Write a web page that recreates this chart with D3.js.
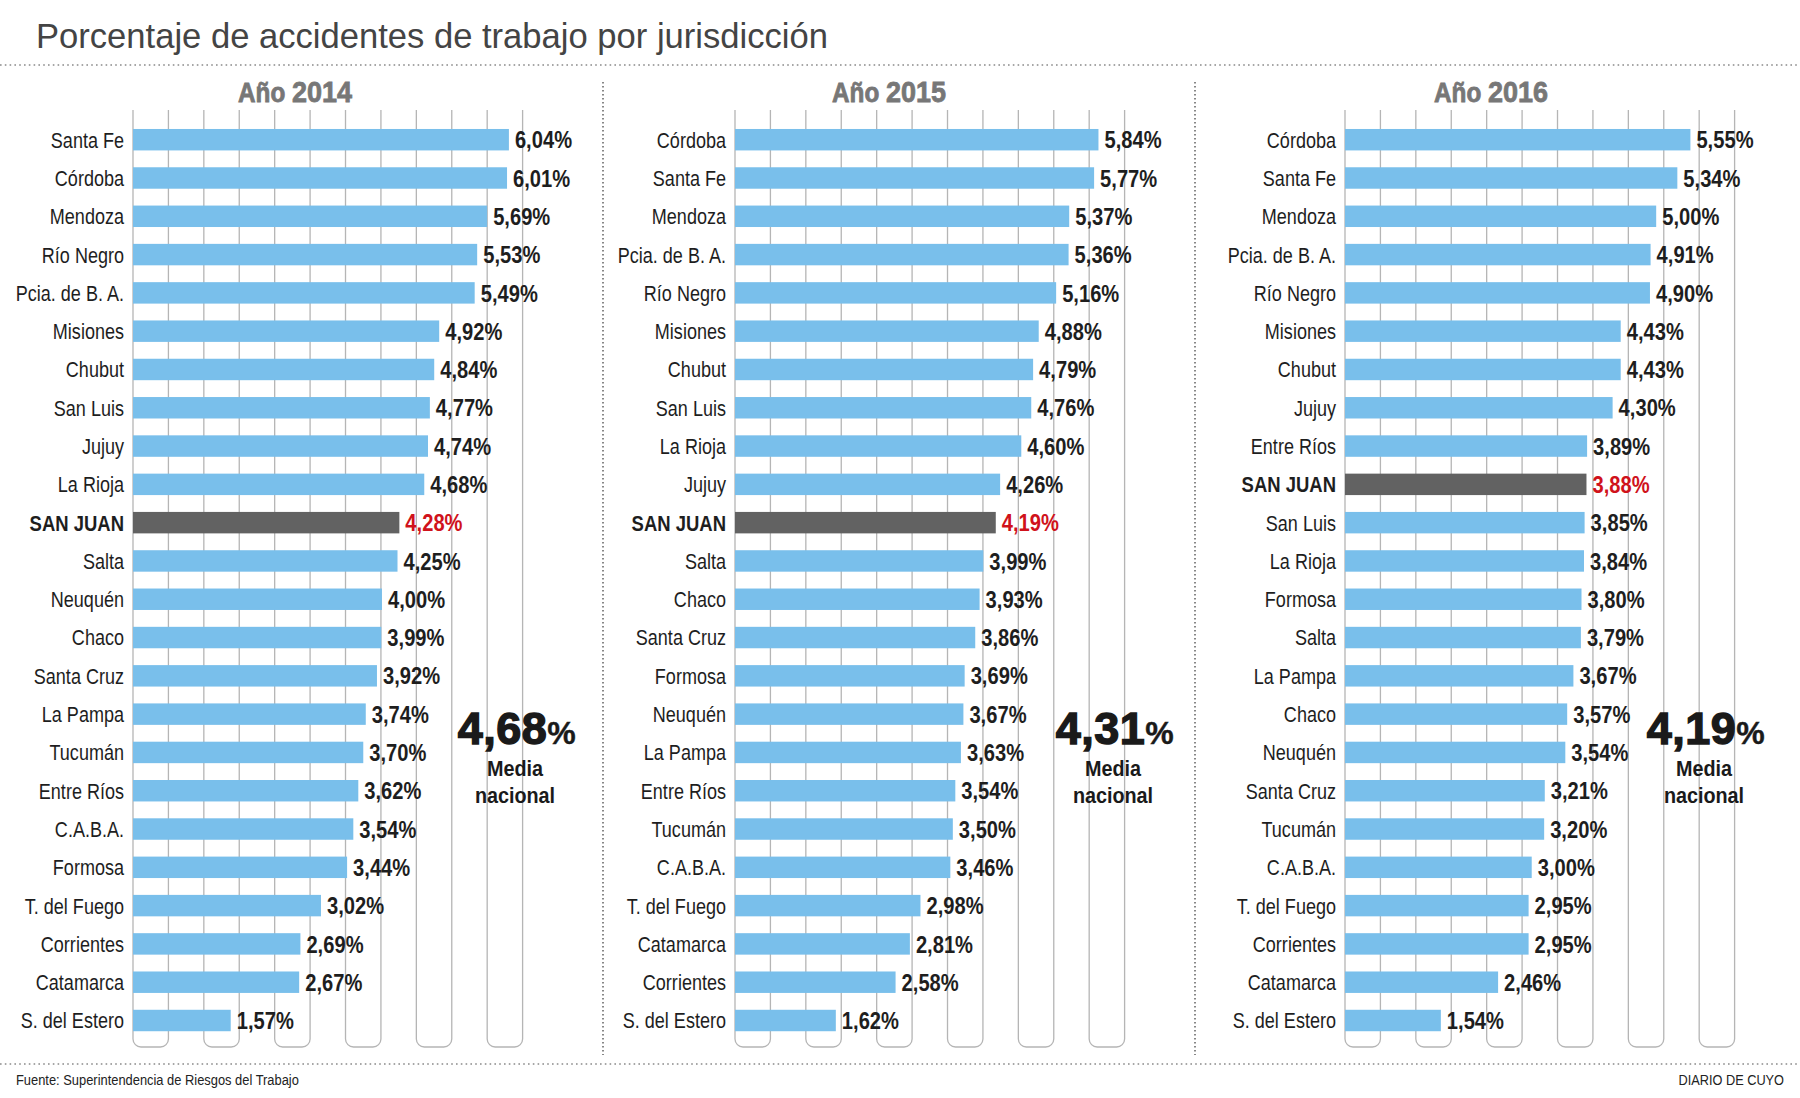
<!DOCTYPE html>
<html>
<head>
<meta charset="utf-8">
<script src="https://cdn.jsdelivr.net/npm/d3@7"></script>
<style>
  body { margin: 0; background: #fff; }
  svg { display: block; }
</style>
</head>
<body>
<svg id="chart" width="1800" height="1098"></svg>
<script>
// ---------- DATA ----------
const years = ["2014", "2015", "2016"];

const categories2014 = ["Santa Fe","Córdoba","Mendoza","Río Negro","Pcia. de B. A.","Misiones","Chubut","San Luis","Jujuy","La Rioja","SAN JUAN","Salta","Neuquén","Chaco","Santa Cruz","La Pampa","Tucumán","Entre Ríos","C.A.B.A.","Formosa","T. del Fuego","Corrientes","Catamarca","S. del Estero"];
const values2014 = [6.04,6.01,5.69,5.53,5.49,4.92,4.84,4.77,4.74,4.68,4.28,4.25,4.00,3.99,3.92,3.74,3.70,3.62,3.54,3.44,3.02,2.69,2.67,1.57];

const categories2015 = ["Córdoba","Santa Fe","Mendoza","Pcia. de B. A.","Río Negro","Misiones","Chubut","San Luis","La Rioja","Jujuy","SAN JUAN","Salta","Chaco","Santa Cruz","Formosa","Neuquén","La Pampa","Entre Ríos","Tucumán","C.A.B.A.","T. del Fuego","Catamarca","Corrientes","S. del Estero"];
const values2015 = [5.84,5.77,5.37,5.36,5.16,4.88,4.79,4.76,4.60,4.26,4.19,3.99,3.93,3.86,3.69,3.67,3.63,3.54,3.50,3.46,2.98,2.81,2.58,1.62];

const categories2016 = ["Córdoba","Santa Fe","Mendoza","Pcia. de B. A.","Río Negro","Misiones","Chubut","Jujuy","Entre Ríos","SAN JUAN","San Luis","La Rioja","Formosa","Salta","La Pampa","Chaco","Neuquén","Santa Cruz","Tucumán","C.A.B.A.","T. del Fuego","Corrientes","Catamarca","S. del Estero"];
const values2016 = [5.55,5.34,5.00,4.91,4.90,4.43,4.43,4.30,3.89,3.88,3.85,3.84,3.80,3.79,3.67,3.57,3.54,3.21,3.20,3.00,2.95,2.95,2.46,1.54];

const nationalMeans = [4.68, 4.31, 4.19];
const highlight = "SAN JUAN";

const titleText = "Porcentaje de accidentes de trabajo por jurisdicción";
const sourceText = "Fuente: Superintendencia de Riesgos del Trabajo";
const brandText = "DIARIO DE CUYO";

// ---------- LAYOUT (positions only) ----------
const panelLayout = [
  { x0: 133,  headerX: 295,  meanX: 517 },
  { x0: 735,  headerX: 889,  meanX: 1115 },
  { x0: 1345, headerX: 1491, meanX: 1706 }
];
const separatorsX = [603, 1195];

const sans = "'Liberation Sans',Arial,Helvetica,sans-serif";
const BAR = "#79bfeb", HL = "#626262", RED = "#d0121b", INK = "#1e1e1e";

const datasets = [
  { cats: categories2014, vals: values2014 },
  { cats: categories2015, vals: values2015 },
  { cats: categories2016, vals: values2016 }
];

const fmt = v => v.toFixed(2).replace(".", ",");

const svg = d3.select("#chart").attr("font-family", sans);
svg.append("rect").attr("width", 1800).attr("height", 1098).attr("fill", "#fff");

// Title
svg.append("text").attr("x", 36).attr("y", 48)
  .attr("font-size", 34.6).attr("fill", "#444")
  .text(titleText);

// Dotted rules
[65, 1064].forEach(yy => {
  svg.append("line").attr("x1", 0).attr("x2", 1800).attr("y1", yy).attr("y2", yy)
    .attr("stroke", "#8a8a8a").attr("stroke-width", 1.6).attr("stroke-dasharray", "1.6,3.2");
});
separatorsX.forEach(xx => {
  svg.append("line").attr("x1", xx).attr("x2", xx).attr("y1", 82).attr("y2", 1055)
    .attr("stroke", "#555").attr("stroke-width", 1.4).attr("stroke-dasharray", "1.5,2.5");
});

// Footer
svg.append("text").attr("transform", "translate(16,1085) scale(0.86,1)")
  .attr("font-size", 15).attr("fill", "#222").text(sourceText);
svg.append("text").attr("transform", "translate(1784,1085) scale(0.85,1)").attr("text-anchor", "end")
  .attr("font-size", 15).attr("fill", "#222").text(brandText);

// scales shared
const x = d3.scaleLinear().domain([0, 6.26]).range([0, 389.6]);
const colBand = d3.scaleBand().domain(d3.range(11)).range([x(0), x(6.26)]);
const gridTop = 110, gridBottom = 1047, r = 8;

datasets.forEach((ds, pi) => {
  const L = panelLayout[pi];
  const g = svg.append("g").attr("transform", `translate(${L.x0},0)`);
  const y = d3.scaleBand().domain(ds.cats).range([120.55, 1039.65])
    .paddingInner(0.44).paddingOuter(0.22);

  // header
  const h = svg.append("text").attr("transform", `translate(${L.headerX},102) scale(0.9,1)`)
    .attr("text-anchor", "middle").attr("font-weight", "bold").attr("fill", "#777")
    .attr("stroke", "#777").attr("stroke-width", 0.8);
  h.append("tspan").attr("font-size", 27).text("Año ");
  h.append("tspan").attr("font-size", 30).text(years[pi]);

  // decorative tube columns
  const cols = d3.range(0, 11, 2);
  g.selectAll("path.col").data(cols).join("path").attr("class", "col")
    .attr("fill", "none").attr("stroke", "#b5b5b5").attr("stroke-width", 1.3)
    .attr("d", i => {
      const l = colBand(i), rr = colBand(i) + colBand.bandwidth();
      return `M${l},${gridTop}V${gridBottom - r}A${r},${r} 0 0 0 ${l + r},${gridBottom}H${rr - r}A${r},${r} 0 0 0 ${rr},${gridBottom - r}V${gridTop}`;
    });

  const rows = ds.cats.map((c, i) => ({ c, v: ds.vals[i] }));

  // bars
  g.selectAll("rect.bar").data(rows).join("rect").attr("class", "bar")
    .attr("x", x(0)).attr("y", d => y(d.c))
    .attr("width", d => x(d.v)).attr("height", y.bandwidth())
    .attr("fill", d => d.c === highlight ? HL : BAR);

  // category labels
  g.selectAll("text.cat").data(rows).join("text").attr("class", "cat")
    .attr("transform", d => `translate(-9,${y(d.c) + y.bandwidth() / 2}) scale(${d.c === highlight ? 0.84 : 0.82},1)`)
    .attr("dy", "0.36em").attr("text-anchor", "end")
    .attr("font-size", 22)
    .attr("font-weight", d => d.c === highlight ? "bold" : "normal")
    .attr("fill", INK).text(d => d.c);

  // value labels
  g.selectAll("text.val").data(rows).join("text").attr("class", "val")
    .attr("transform", d => `translate(${x(d.v) + 6},${y(d.c) + y.bandwidth() / 2}) scale(0.84,1)`)
    .attr("dy", "0.36em")
    .attr("font-weight", "bold").attr("font-size", 24)
    .attr("fill", d => d.c === highlight ? RED : INK).text(d => fmt(d.v) + "%");

  // national mean
  const m = svg.append("text").attr("x", L.meanX).attr("y", 744).attr("text-anchor", "middle")
    .attr("font-weight", "bold").attr("fill", "#1a1a1a")
    .attr("stroke", "#1a1a1a").attr("stroke-width", 1.4).attr("letter-spacing", 0.5);
  m.append("tspan").attr("font-size", 45).text(fmt(nationalMeans[pi]));
  m.append("tspan").attr("font-size", 32).attr("stroke-width", 0.4).text("%");
  ["Media", "nacional"].forEach((t, k) => {
    svg.append("text").attr("transform", `translate(${L.meanX - 2},${776 + k * 27}) scale(0.9,1)`)
      .attr("text-anchor", "middle")
      .attr("font-weight", "bold").attr("font-size", 22)
      .attr("fill", "#1a1a1a").text(t);
  });
});
</script>
</body>
</html>
